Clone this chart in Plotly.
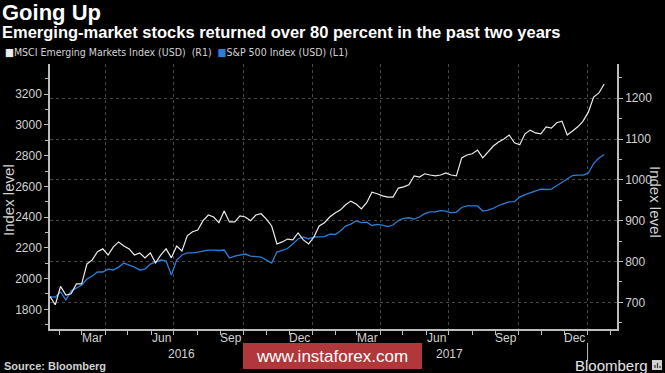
import plotly.graph_objects as go
import pandas as pd

# ---------------- data ----------------
dates = pd.date_range("2016-01-19", periods=106, freq="7D")

msci_em = [714, 694, 739, 718, 721, 745, 745, 794, 804, 824,
           831, 816, 836, 848, 838, 831, 816, 821, 809, 821,
           797, 816, 831, 809, 838, 826, 863, 873, 877, 900,
           914, 909, 895, 924, 897, 897, 912, 909, 900, 914,
           917, 904, 887, 843, 848, 855, 853, 870, 853, 843,
           860, 887, 895, 909, 919, 926, 939, 948, 941, 929,
           944, 970, 966, 961, 958, 958, 980, 983, 988, 1010,
           1007, 1015, 1012, 1010, 1012, 1017, 1012, 1010, 1054, 1061,
           1064, 1073, 1054, 1069, 1083, 1093, 1100, 1110, 1091, 1086,
           1113, 1122, 1115, 1113, 1130, 1127, 1140, 1144, 1110, 1120,
           1130, 1144, 1166, 1203, 1213, 1235]

sp500 = [1882, 1880, 1913, 1861, 1919, 1939, 1958, 1997, 2017, 2043,
         2043, 2062, 2056, 2075, 2101, 2088, 2075, 2056, 2062, 2095,
         2108, 2121, 2114, 2023, 2121, 2154, 2167, 2167, 2173, 2180,
         2186, 2186, 2183, 2186, 2134, 2147, 2154, 2160, 2147, 2144,
         2140, 2121, 2101, 2173, 2186, 2196, 2225, 2258, 2271, 2258,
         2271, 2273, 2273, 2290, 2287, 2310, 2342, 2355, 2375, 2365,
         2368, 2346, 2353, 2348, 2338, 2349, 2378, 2392, 2396, 2388,
         2401, 2423, 2435, 2435, 2443, 2440, 2428, 2433, 2463, 2473,
         2474, 2473, 2440, 2446, 2458, 2476, 2488, 2499, 2501, 2531,
         2547, 2560, 2570, 2583, 2580, 2583, 2604, 2627, 2648, 2671,
         2674, 2674, 2687, 2749, 2785, 2808]

left_ticks = [1800, 2000, 2200, 2400, 2600, 2800, 3000, 3200]
right_ticks = [700, 800, 900, 1000, 1100, 1200]
quarter_starts = ["2016-04-01", "2016-07-01", "2016-10-01", "2017-01-01",
                  "2017-04-01", "2017-07-01", "2017-10-01", "2018-01-01"]
month_labels = ["Mar", "Jun", "Sep", "Dec", "Mar", "Jun", "Sep", "Dec"]
month_label_dates = ["2016-03-15", "2016-06-15", "2016-09-15", "2016-12-15",
                     "2017-03-15", "2017-06-15", "2017-09-15", "2017-12-15"]
year_labels = ["2016", "2017"]
year_label_dates = ["2016-07-11", "2017-07-02"]
year_breaks = ["2017-01-01", "2018-01-01"]

title = "Going Up"
subtitle = "Emerging-market stocks returned over 80 percent in the past two years"
name_em = "MSCI Emerging Markets Index (USD)  (R1)"
name_sp = "S&P 500 Index (USD) (L1)"

# ---------------- styling ----------------
W, H = 665, 373
ML, MR, MT, MB = 50, 48, 64, 44
PW, PH = W - ML - MR, H - MT - MB

def px(x):
    return (x - ML) / PW

def py(y):
    return (H - MB - y) / PH

WHITE = "#ececec"
BLUE = "#2a7fd6"
AXIS = "#bdbdbd"
TXT = "#d2d2d2"
GRID = "#474747"
FONT = "Liberation Sans, Arial, sans-serif"
NARROW = "Liberation Sans Narrow, DejaVu Sans Condensed, Arial Narrow, sans-serif"

fig = go.Figure()
fig.add_trace(go.Scatter(x=dates, y=msci_em, yaxis="y2", mode="lines",
                         line=dict(color=WHITE, width=1.2), name=name_em))
fig.add_trace(go.Scatter(x=dates, y=sp500, yaxis="y", mode="lines",
                         line=dict(color=BLUE, width=1.3), name=name_sp))

fig.update_layout(
    width=W, height=H,
    margin=dict(l=ML, r=MR, t=MT, b=MB, pad=0),
    paper_bgcolor="#000000", plot_bgcolor="#000000",
    showlegend=False,
    font=dict(family=FONT, color=TXT, size=12),
    xaxis=dict(
        type="date", range=["2016-01-19", "2018-02-09"],
        tickvals=quarter_starts, showticklabels=False,
        ticks="outside", ticklen=4, tickcolor=AXIS, tickwidth=1,
        showgrid=True, gridcolor=GRID, griddash="dot", gridwidth=1,
        showline=True, linecolor=AXIS, linewidth=1.5,
        zeroline=False,
        minor=dict(dtick="M1", tick0="2016-01-01", ticks="outside",
                   ticklen=4, tickcolor=AXIS, showgrid=False),
    ),
    yaxis=dict(
        range=[1672, 3397], tickvals=left_ticks,
        ticks="outside", ticklen=4, tickcolor=AXIS,
        showgrid=False, zeroline=False,
        showline=True, linecolor=AXIS, linewidth=1.5,
        tickfont=dict(size=12, color=TXT),
        minor=dict(dtick=100, tick0=0, ticks="outside", ticklen=3,
                   tickcolor=AXIS, showgrid=False),
    ),
    yaxis2=dict(
        range=[634.6, 1284], tickvals=right_ticks, overlaying="y", side="right",
        ticks="outside", ticklen=4, tickcolor=AXIS,
        showgrid=True, gridcolor=GRID, griddash="dot", gridwidth=1,
        zeroline=False,
        showline=True, linecolor=AXIS, linewidth=1.5,
        tickfont=dict(size=12, color=TXT),
        minor=dict(dtick=50, tick0=0, ticks="outside", ticklen=3,
                   tickcolor=AXIS, showgrid=False),
    ),
)

ann = []
ann.append(dict(text="<b>" + title + "</b>", x=px(0), y=py(12), xref="paper", yref="paper",
                xanchor="left", yanchor="middle", showarrow=False,
                font=dict(family=FONT, size=22, color="#ffffff")))
ann.append(dict(text="<b>" + subtitle + "</b>", x=px(0), y=py(32), xref="paper", yref="paper",
                xanchor="left", yanchor="middle", showarrow=False,
                font=dict(family=FONT, size=16.5, color="#ffffff")))
legend_text = ("<span style='color:%s'>■</span>%s  <span style='color:%s'>■</span>%s"
               % (WHITE, name_em, BLUE, name_sp))
ann.append(dict(text=legend_text, x=px(3), y=py(52), xref="paper", yref="paper",
                xanchor="left", yanchor="middle", showarrow=False,
                font=dict(family=NARROW, size=10.5, color=TXT)))
ann.append(dict(text="Index level", x=px(8), y=py(200), xref="paper", yref="paper",
                xanchor="center", yanchor="middle", textangle=-90, showarrow=False,
                font=dict(family=FONT, size=15, color=TXT)))
ann.append(dict(text="Index level", x=px(656), y=py(202), xref="paper", yref="paper",
                xanchor="center", yanchor="middle", textangle=90, showarrow=False,
                font=dict(family=FONT, size=15, color=TXT)))
for lab, d in zip(month_labels, month_label_dates):
    ann.append(dict(text=lab, x=d, y=py(338), xref="x", yref="paper",
                    xanchor="center", yanchor="middle", showarrow=False,
                    font=dict(family=FONT, size=12, color=TXT)))
for lab, d in zip(year_labels, year_label_dates):
    ann.append(dict(text=lab, x=d, y=py(354), xref="x", yref="paper",
                    xanchor="center", yanchor="middle", showarrow=False,
                    font=dict(family=FONT, size=12, color=TXT)))
ann.append(dict(text="<b>Source: Bloomberg</b>", x=px(2), y=py(366), xref="paper", yref="paper",
                xanchor="left", yanchor="middle", showarrow=False,
                font=dict(family=FONT, size=11, color=TXT)))
ann.append(dict(text="Bloomberg", x=px(650), y=py(365), xref="paper", yref="paper",
                xanchor="right", yanchor="middle", showarrow=False,
                font=dict(family=FONT, size=15, color="#e6e6e6")))
ann.append(dict(text="www.instaforex.com", x=px(332), y=py(356), xref="paper", yref="paper",
                xanchor="center", yanchor="middle", showarrow=False,
                font=dict(family=FONT, size=17, color="#ffffff")))

shapes = []
for d in year_breaks:
    shapes.append(dict(type="line", xref="x", yref="paper", x0=d, x1=d,
                       y0=py(343), y1=py(361), line=dict(color=AXIS, width=1)))
shapes.append(dict(type="rect", xref="paper", yref="paper",
                   x0=px(243), x1=px(422), y0=py(369), y1=py(343),
                   fillcolor="#b1373a", line=dict(width=0), layer="above"))
shapes.append(dict(type="rect", xref="paper", yref="paper",
                   x0=px(652), x1=px(662), y0=py(370), y1=py(360),
                   fillcolor="#cfcfcf", line=dict(width=0)))
for xx, hh in [(655, 3), (657.5, 5), (660, 2)]:
    shapes.append(dict(type="line", xref="paper", yref="paper",
                       x0=px(xx), x1=px(xx), y0=py(368), y1=py(368 - hh),
                       line=dict(color="#333333", width=1.2)))

fig.update_layout(annotations=ann, shapes=shapes)
fig.write_html("out.html", config={"displayModeBar": False},
               post_script="document.body.style.margin='0';document.body.style.background='#000';")
